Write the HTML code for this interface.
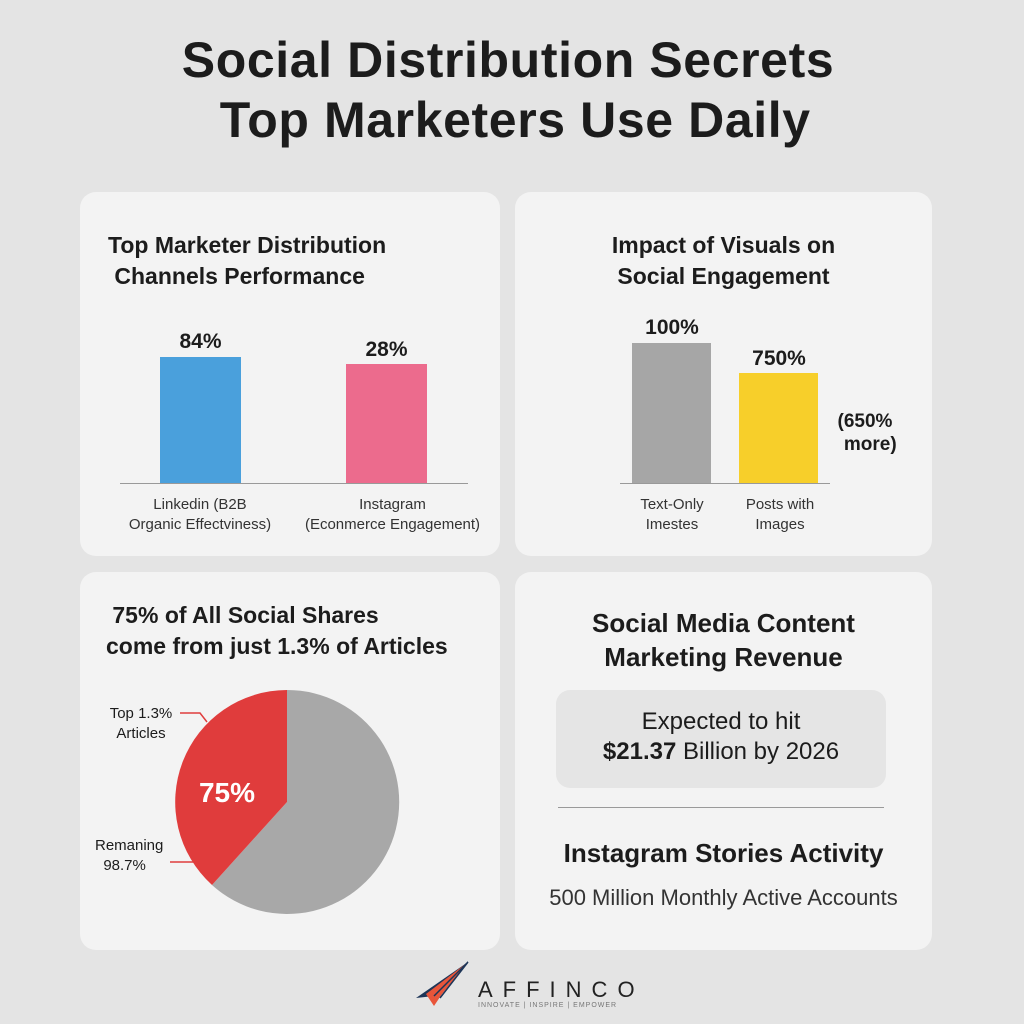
<!DOCTYPE html>
<html><head><meta charset="utf-8"><style>
body{margin:0;width:1024px;height:1024px;background:#e4e4e4;font-family:"Liberation Sans",sans-serif;color:#1c1c1c;position:relative;overflow:hidden}
.a{position:absolute}
.p{position:absolute;background:#f3f3f3;border-radius:16px}
.t{position:absolute;font-weight:bold;text-align:center}
.c{text-align:center}
</style></head><body>
<div class="t" style="left:0;width:1016px;top:30px;font-size:50px;line-height:60px;letter-spacing:0.6px">Social Distribution Secrets<br>&nbsp;Top Marketers Use Daily</div>

<div class="p" style="left:80px;top:192px;width:420px;height:364px"></div>
<div class="p" style="left:515px;top:192px;width:417px;height:364px"></div>
<div class="p" style="left:80px;top:572px;width:420px;height:378px"></div>
<div class="p" style="left:515px;top:572px;width:417px;height:378px"></div>

<!-- panel 1 -->
<div class="a" style="left:108px;top:230px;font-size:23px;font-weight:bold;line-height:31px">Top Marketer Distribution<br>&nbsp;Channels Performance</div>
<div class="a" style="left:160px;top:357px;width:81px;height:127px;background:#4aa0dc"></div>
<div class="a" style="left:346px;top:364px;width:81px;height:120px;background:#ec6b8d"></div>
<div class="a" style="left:120px;top:483px;width:348px;height:1px;background:#999"></div>
<div class="a c" style="left:160px;width:81px;top:330px;font-size:21px;font-weight:bold">84%</div>
<div class="a c" style="left:346px;width:81px;top:338px;font-size:21px;font-weight:bold">28%</div>
<div class="a c" style="left:120px;width:160px;top:495px;font-size:15px;line-height:20px;color:#333">Linkedin (B2B<br>Organic Effectviness)</div>
<div class="a c" style="left:290px;width:205px;top:495px;font-size:15px;line-height:20px;color:#333">Instagram<br>(Econmerce Engagement)</div>

<!-- panel 2 -->
<div class="a c" style="left:515px;width:417px;top:230px;font-size:23px;font-weight:bold;line-height:31px">Impact of Visuals on<br>Social Engagement</div>
<div class="a" style="left:632px;top:343px;width:79px;height:141px;background:#a6a6a6"></div>
<div class="a" style="left:739px;top:373px;width:79px;height:111px;background:#f7cf2a"></div>
<div class="a" style="left:620px;top:483px;width:210px;height:1px;background:#999"></div>
<div class="a c" style="left:622px;width:100px;top:316px;font-size:21px;font-weight:bold">100%</div>
<div class="a c" style="left:729px;width:100px;top:347px;font-size:21px;font-weight:bold">750%</div>
<div class="a c" style="left:820px;width:90px;top:410px;font-size:19px;font-weight:bold;line-height:23px">(650%<br>&nbsp;&nbsp;more)</div>
<div class="a c" style="left:622px;width:100px;top:495px;font-size:15px;line-height:20px;color:#333">Text-Only<br>Imestes</div>
<div class="a c" style="left:730px;width:100px;top:495px;font-size:15px;line-height:20px;color:#333">Posts with<br>Images</div>

<!-- panel 3 -->
<div class="a" style="left:106px;top:600px;font-size:23px;font-weight:bold;line-height:31px">&nbsp;75% of All Social Shares<br>come from just 1.3% of Articles</div>
<svg class="a" style="left:0;top:0" width="1024" height="1024">
<path d="M287,802 L287,690 A112,112 0 1 1 212,885 Z" fill="#a8a8a8"/>
<path d="M287,802 L287,690 A112,112 0 0 0 212,885 Z" fill="#e03c3c"/>
<path d="M180,713 L200,713 L207,722" stroke="#e03c3c" fill="none" stroke-width="1.5"/>
<path d="M170,862 L195,862" stroke="#e03c3c" fill="none" stroke-width="1.5"/>
<text x="227" y="802" font-size="28" font-weight="bold" fill="#fff" text-anchor="middle" font-family="Liberation Sans">75%</text>
</svg>
<div class="a c" style="left:96px;width:90px;top:704px;font-size:15px;line-height:20px">Top 1.3%<br>Articles</div>
<div class="a" style="left:95px;top:836px;font-size:15px;line-height:20px">Remaning<br>&nbsp;&nbsp;98.7%</div>

<!-- panel 4 -->
<div class="a c" style="left:515px;width:417px;top:606px;font-size:26px;font-weight:bold;line-height:34px">Social Media Content<br>Marketing Revenue</div>
<div class="a" style="left:556px;top:690px;width:330px;height:98px;background:#e5e5e5;border-radius:14px"></div>
<div class="a c" style="left:556px;width:330px;top:707px;font-size:24px;line-height:30px">Expected to hit<br><b>$21.37</b> Billion by 2026</div>
<div class="a" style="left:558px;top:807px;width:326px;height:1px;background:#999"></div>
<div class="a c" style="left:515px;width:417px;top:838px;font-size:26px;font-weight:bold">Instagram Stories Activity</div>
<div class="a c" style="left:515px;width:417px;top:885px;font-size:22px;color:#333">500 Million Monthly Active Accounts</div>

<!-- logo -->
<svg class="a" style="left:412px;top:960px" width="60" height="50">
<polygon points="56,2 4,38 22,36" fill="#1d3557"/>
<polygon points="56,2 14,34 22,46 30,34" fill="#e8553a"/>
<path d="M22,36 L56,2 M28,38 L56,2" stroke="#1d3557" stroke-width="1.5"/>
</svg>
<div class="a" style="left:478px;top:977px;font-size:22px;letter-spacing:10px;color:#222">AFFINCO</div>
<div class="a" style="left:478px;top:1002px;font-size:7px;color:#777;letter-spacing:1px">INNOVATE | INSPIRE | EMPOWER</div>
</body></html>
